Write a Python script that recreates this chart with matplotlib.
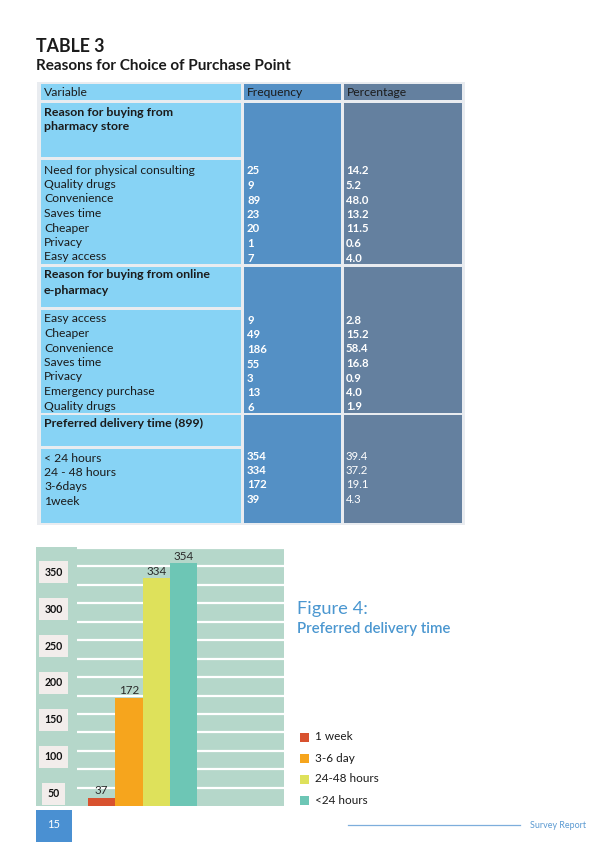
import numpy as np
import matplotlib
matplotlib.use("Agg")
from matplotlib import pyplot as plt
from matplotlib.patches import Rectangle

plt.rcParams['font.family'] = ['Lato', 'DejaVu Sans']

# table data
store_reasons = ["Need for physical consulting", "Quality drugs", "Convenience",
                 "Saves time", "Cheaper", "Privacy", "Easy access"]
store_freq = ["25", "9", "89", "23", "20", "1", "7"]
store_pct = ["14.2", "5.2", "48.0", "13.2", "11.5", "0.6", "4.0"]

online_reasons = ["Easy access", "Cheaper", "Convenience", "Saves time",
                  "Privacy", "Emergency purchase", "Quality drugs"]
online_freq = ["9", "49", "186", "55", "3", "13", "6"]
online_pct = ["2.8", "15.2", "58.4", "16.8", "0.9", "4.0", "1.9"]

delivery_rows = ["< 24 hours", "24 - 48 hours", "3-6days", "1week"]
delivery_freq = ["354", "334", "172", "39"]
delivery_pct = ["39.4", "37.2", "19.1", "4.3"]

# bar chart data
bar_labels = ["1 week", "3-6 day", "24-48 hours", "<24 hours"]
bar_values = [37, 172, 334, 354]
bar_colors = ["#D8522F", "#F6A51D", "#DEE15B", "#6DC6B5"]
yticks = [50, 100, 150, 200, 250, 300, 350]

fig = plt.figure(figsize=(5.95, 8.42), dpi=100)
page = fig.add_axes([0, 0, 1, 1])
page.set_xlim(0, 595)
page.set_ylim(842, 0)
page.set_axis_off()

dark = "#1b1b1b"
c_var = "#87D3F5"
c_freq = "#5490C5"
c_pct = "#64809F"

page.text(36, 47, "TABLE 3", fontsize=12.8, fontweight="bold", color=dark, va="center")
page.text(36, 66, "Reasons for Choice of Purchase Point", fontsize=11,
          fontweight="bold", color=dark, va="center")

# outer table border
page.add_patch(Rectangle((37, 82), 428, 443, facecolor="#E9ECF0", edgecolor="none"))

cols = [(41, 200, c_var), (244, 97, c_freq), (344, 118, c_pct)]
# first column cells (top, bottom) and header row
blocks = [(84, 100), (103, 157), (160, 264), (267, 307), (310, 413), (415, 446), (449, 523)]
for (y0, y1) in blocks:
    x0, w, col = cols[0]
    page.add_patch(Rectangle((x0, y0), w, y1 - y0, facecolor=col, edgecolor="none"))
for (x0, w, col) in cols[1:]:
    page.add_patch(Rectangle((x0, 84), w, 16, facecolor=col, edgecolor="none"))
# merged numeric cells per section
for (y0, y1) in [(103, 264), (267, 413), (415, 523)]:
    for (x0, w, col) in cols[1:]:
        page.add_patch(Rectangle((x0, y0), w, y1 - y0, facecolor=col, edgecolor="none"))

fs = 8.7
nfs = 8.2
page.text(44, 93, "Variable", fontsize=fs, color=dark, va="center")
page.text(247, 93, "Frequency", fontsize=fs, color=dark, va="center")
page.text(347, 93, "Percentage", fontsize=fs, color=dark, va="center")

hb = dict(fontsize=8.9, fontweight="bold", color=dark, va="center")
page.text(44, 112, "Reason for buying from", **hb)
page.text(44, 127, "pharmacy store", **hb)
for k in range(len(store_reasons)):
    y = 170 + k * 14.5
    page.text(44, y, store_reasons[k], fontsize=fs, color=dark, va="center")
    page.text(247, y + 1, store_freq[k], fontsize=nfs, color="white", fontweight="bold", va="center")
    page.text(346, y + 1, store_pct[k], fontsize=nfs, color="white", fontweight="bold", va="center")

page.text(44, 275, "Reason for buying from online", **hb)
page.text(44, 290, "e-pharmacy", **hb)
for k in range(len(online_reasons)):
    y = 319 + k * 14.5
    page.text(44, y, online_reasons[k], fontsize=fs, color=dark, va="center")
    page.text(247, y + 1.5, online_freq[k], fontsize=nfs, color="white", fontweight="bold", va="center")
    page.text(346, y + 1, online_pct[k], fontsize=nfs, color="white", fontweight="bold", va="center")

page.text(44, 423, "Preferred delivery time (899)", **hb)
for k in range(len(delivery_rows)):
    y = 458 + k * 14.5
    page.text(44, y, delivery_rows[k], fontsize=fs, color=dark, va="center")
    page.text(247, y - 2, delivery_freq[k], fontsize=nfs, color="white", fontweight="bold", va="center")
    page.text(346, y - 2, delivery_pct[k], fontsize=nfs, color="white", va="center")

# figure caption and legend
page.text(297, 609, "Figure 4:", fontsize=13.2, color="#4B97D0", va="center")
page.text(297, 629, "Preferred delivery time", fontsize=10.8, fontweight="semibold",
          color="#4B97D0", va="center")
for k in range(len(bar_labels)):
    y = 737 + k * 21
    page.add_patch(Rectangle((300, y - 4.5), 9, 9, facecolor=bar_colors[k], edgecolor="none"))
    page.text(315, y, bar_labels[k], fontsize=8.5, color=dark, va="center")

# footer
page.add_patch(Rectangle((36, 810), 36, 32, facecolor="#4A90D2", edgecolor="none"))
page.text(54, 825, "15", fontsize=8, color="white", ha="center", va="center")
page.plot([348, 520], [825, 825], color="#7DAEDC", lw=0.9)
page.text(530, 825, "Survey Report", fontsize=6.4, color="#5B9AD2", va="center")

# bar chart
ax = fig.add_axes([36 / 595, 1 - 806 / 842, 248 / 595, 259 / 842])
ax.set_facecolor("#B5D7CA")
x = np.arange(len(bar_values))
ax.set_xlim(-2.4, 6.68)
ax.set_ylim(25.5, 376)
grid = np.arange(50, 376, 25)
ax.hlines(grid, -0.9, 6.68, colors="white", lw=1.6, zorder=1)
ax.bar(x, np.array(bar_values) - 25.5, bottom=25.5, width=1.0, color=bar_colors, zorder=2)
for xi, v in zip(x, bar_values):
    ax.text(xi, v + 2, str(v), ha="center", va="bottom", fontsize=8.4, color="#2a2a2a", zorder=3)
for t in yticks:
    ax.text(-1.75, t - 8, str(t), ha="center", va="center", fontsize=7.6, fontweight="bold",
            color="#111111", bbox=dict(boxstyle="square,pad=0.5", facecolor="#F2EDEB",
                                       edgecolor="none"))
ax.set_xticks([])
ax.set_yticks([])
for s in ax.spines.values():
    s.set_visible(False)

fig.savefig("out.png", dpi=100)
